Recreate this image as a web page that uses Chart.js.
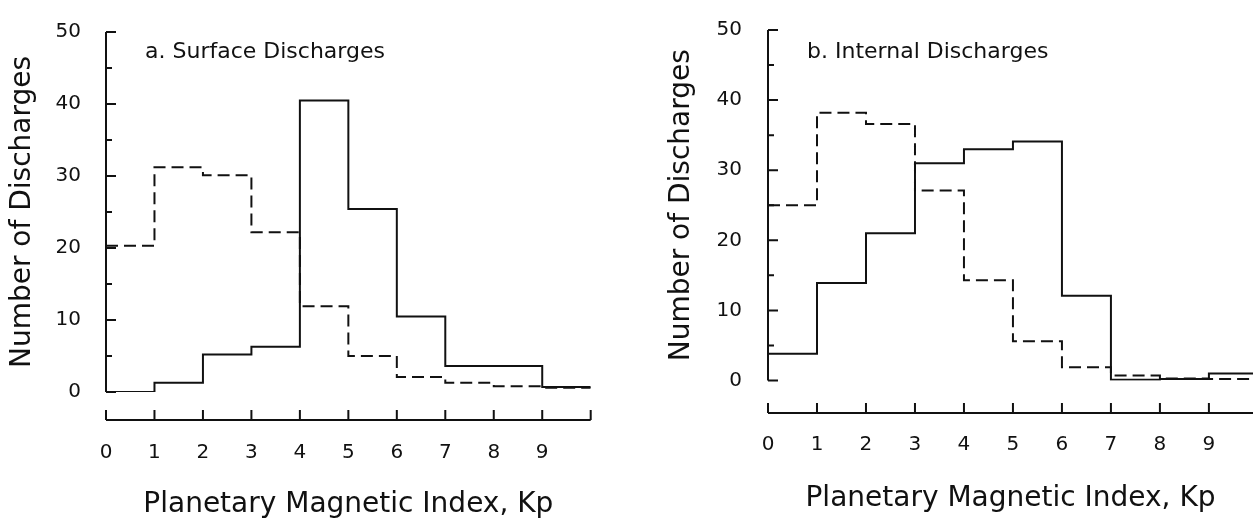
<!DOCTYPE html>
<html>
<head>
<meta charset="utf-8">
<script src="https://cdn.jsdelivr.net/npm/chart.js@4.4.1/dist/chart.umd.min.js"></script>
<style>
  body { margin: 0; background: #fff; }
  .panel { position: absolute; top: 0; height: 521px; }
  #left { left: 0; width: 626px; }
  #right { left: 626px; width: 627px; }
</style>
</head>
<body>
<div class="panel" id="left"><canvas id="surfaceChart"></canvas></div>
<div class="panel" id="right"><canvas id="internalChart"></canvas></div>
<script>
const kpEdges = [0, 1, 2, 3, 4, 5, 6, 7, 8, 9, 10];
const kpTickLabels = ["0", "1", "2", "3", "4", "5", "6", "7", "8", "9", ""];
const countTicks = [0, 5, 10, 15, 20, 25, 30, 35, 40, 45, 50];
const countTickLabels = ["0", "", "10", "", "20", "", "30", "", "40", "", "50"];

// one value per Kp bin (bin i runs from kpEdges[i] to kpEdges[i+1])
const surfaceSolid   = [0, 1.3, 5.2, 6.3, 40.5, 25.4, 10.5, 3.6, 3.6, 0.7];
const surfaceDashed  = [20.3, 31.2, 30.1, 22.2, 11.9, 5.0, 2.1, 1.3, 0.8, 0.6];
const internalSolid  = [3.8, 13.9, 21.0, 31.0, 33.0, 34.1, 12.1, 0.1, 0.2, 1.0];
const internalDashed = [25.0, 38.2, 36.6, 27.1, 14.3, 5.6, 1.9, 0.7, 0.3, 0.2];

const ink = "#111";
const family = "'DejaVu Sans', sans-serif";

function stepPoints(values) {
  const pts = values.map((v, i) => ({ x: kpEdges[i], y: v }));
  pts.push({ x: kpEdges[values.length], y: values[values.length - 1] });
  return pts;
}

// y axis only spans 0..50 with inward ticks, x axis sits detached below the plot
const axisMarks = {
  id: "axisMarks",
  afterDraw(chart, args, opts) {
    const { ctx, chartArea, scales: { x, y } } = chart;
    const x0 = x.getPixelForValue(kpEdges[0]);
    ctx.save();
    ctx.strokeStyle = ink;
    ctx.lineWidth = 2;
    ctx.beginPath();
    ctx.moveTo(x0, y.getPixelForValue(countTicks[0]));
    ctx.lineTo(x0, y.getPixelForValue(countTicks[countTicks.length - 1]));
    countTicks.forEach((v, i) => {
      const py = y.getPixelForValue(v);
      ctx.moveTo(x0, py);
      ctx.lineTo(x0 + (countTickLabels[i] ? 10 : 6), py);
    });
    const by = chartArea.bottom + opts.gap;
    ctx.moveTo(x0, by);
    ctx.lineTo(chartArea.right, by);
    kpEdges.forEach(k => {
      if (k > x.max) return;
      const px = x.getPixelForValue(k);
      ctx.moveTo(px, by);
      ctx.lineTo(px, by - 10);
    });
    ctx.stroke();
    ctx.restore();
  }
};

const panelLabel = {
  id: "panelLabel",
  afterDraw(chart, args, opts) {
    const { ctx, chartArea } = chart;
    ctx.save();
    ctx.font = "22px " + family;
    ctx.fillStyle = ink;
    ctx.textBaseline = "middle";
    ctx.fillText(opts.text, chartArea.left + opts.dx, chartArea.top + opts.dy);
    ctx.restore();
  }
};

function makeChart(id, title, solid, dashed, box) {
  return new Chart(document.getElementById(id), {
    type: "line",
    data: {
      datasets: [
        { label: "solid", data: stepPoints(solid), borderColor: ink, borderWidth: 2, stepped: true, pointRadius: 0 },
        { label: "dashed", data: stepPoints(dashed), borderColor: ink, borderWidth: 2, borderDash: [12, 6], stepped: true, pointRadius: 0 }
      ]
    },
    options: {
      responsive: true,
      maintainAspectRatio: false,
      animation: false,
      layout: { padding: { top: box.top, right: box.right, left: 0, bottom: 0 } },
      plugins: {
        legend: { display: false },
        tooltip: { enabled: false },
        axisMarks: { gap: box.gap },
        panelLabel: { text: title, dx: 39, dy: box.labelDy }
      },
      scales: {
        x: {
          type: "linear",
          min: 0,
          max: box.xMax,
          afterBuildTicks: s => { s.ticks = kpEdges.filter(k => k <= s.max).map(k => ({ value: k })); },
          afterFit: s => { s.height = box.xHeight; s.paddingLeft = 0; s.paddingRight = 0; },
          grid: { display: false },
          border: { display: false },
          ticks: { padding: box.xPad, color: ink, font: { family, size: 20 }, maxRotation: 0, callback: (v, i) => kpTickLabels[i] },
          title: { display: true, text: "Planetary Magnetic Index, Kp", color: ink, font: { family, size: 28 }, padding: { top: 0, bottom: box.xTitlePad } }
        },
        y: {
          min: 0,
          max: 50,
          afterBuildTicks: s => { s.ticks = countTicks.map(v => ({ value: v })); },
          afterFit: s => { s.width = box.yWidth; },
          grid: { display: false },
          border: { display: false },
          ticks: { padding: box.yPad, color: ink, font: { family, size: 20 }, callback: (v, i) => countTickLabels[i] },
          title: { display: true, text: "Number of Discharges", color: ink, font: { family, size: 28 }, padding: { top: box.yTitlePad, bottom: 0 } }
        }
      }
    },
    plugins: [axisMarks, panelLabel]
  });
}

makeChart("surfaceChart", "a. Surface Discharges", surfaceSolid, surfaceDashed, {
  top: 32, right: 35.3, gap: 28, xMax: 10, xHeight: 129, xPad: 41, xTitlePad: -1,
  yWidth: 106, yPad: 17, yTitlePad: 6, labelDy: 20
});

makeChart("internalChart", "b. Internal Discharges", internalSolid, internalDashed, {
  top: 16.7, right: 0, gap: 32.5, xMax: 9.9, xHeight: 140.5, xPad: 44, xTitlePad: 5,
  yWidth: 142, yPad: 18, yTitlePad: 39, labelDy: 22.3
});
</script>
</body>
</html>
